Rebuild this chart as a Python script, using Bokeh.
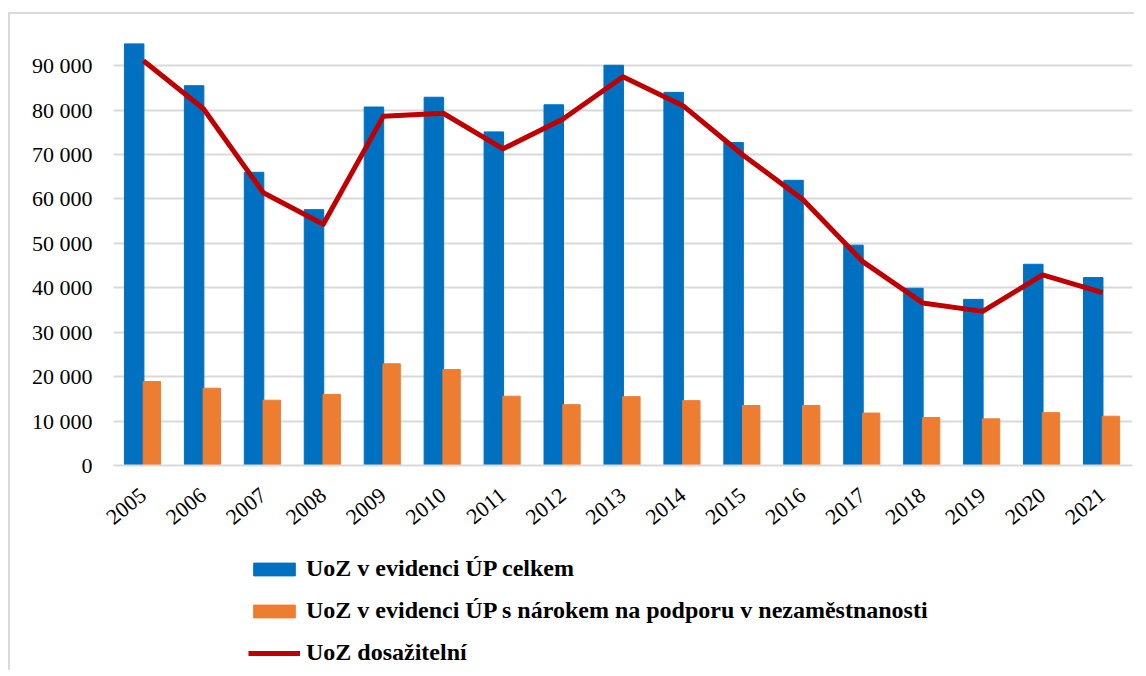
from bokeh.plotting import figure
from bokeh.models import (Range1d, FactorRange, FixedTicker, Legend, LegendItem,
                          ColumnDataSource)
from bokeh.layouts import column
from bokeh.transform import dodge
from bokeh.embed import file_html
from bokeh.resources import INLINE

years = ["2005", "2006", "2007", "2008", "2009", "2010", "2011", "2012", "2013",
         "2014", "2015", "2016", "2017", "2018", "2019", "2020", "2021"]
uoz_celkem = [95000, 85500, 66000, 57600, 80700, 82900, 75100, 81200, 90100,
              84000, 72700, 64200, 49600, 39900, 37400, 45300, 42300]
uoz_podpora = [18900, 17400, 14700, 16000, 22900, 21600, 15600, 13700, 15500,
               14600, 13500, 13500, 11800, 10800, 10500, 11900, 11100]
uoz_dosazitelni = [91100, 80300, 61400, 54300, 78600, 79300, 71300, 78000, 87500,
                   81000, 69900, 59900, 45900, 36600, 34700, 42900, 38900]
y_ticks = [0, 10000, 20000, 30000, 40000, 50000, 60000, 70000, 80000, 90000]
y_tick_labels = ["0", "10 000", "20 000", "30 000", "40 000", "50 000",
                 "60 000", "70 000", "80 000", "90 000"]
series_names = ["UoZ v evidenci ÚP celkem",
                "UoZ v evidenci ÚP s nárokem na podporu v nezaměstnanosti",
                "UoZ dosažitelní"]
colors = ["#0070C0", "#ED7D31", "#C00000"]

src = ColumnDataSource(dict(year=years, a=uoz_celkem, b=uoz_podpora, c=uoz_dosazitelni))

FONT = "Liberation Serif"

p = figure(width=1124, height=520, x_range=FactorRange(*years),
           y_range=Range1d(0, 95000), output_backend="svg", toolbar_location=None,
           min_border_left=103, min_border_right=2, min_border_top=29,
           min_border_bottom=60)
p.outline_line_color = None

p.vbar(x=dodge("year", -0.155, range=p.x_range), top="a", width=0.325,
       source=src, color=colors[0])
p.vbar(x=dodge("year", 0.14, range=p.x_range), top="b", width=0.29,
       source=src, color=colors[1])
p.line(x="year", y="c", source=src, line_color=colors[2], line_width=5,
       line_join="round")

p.xgrid.grid_line_color = None
p.ygrid.grid_line_color = "#D9D9D9"
p.ygrid.grid_line_width = 2
p.yaxis.ticker = FixedTicker(ticks=y_ticks)
p.yaxis.major_label_overrides = {t: l for t, l in zip(y_ticks, y_tick_labels)}
p.yaxis.axis_line_color = None
p.yaxis.major_tick_line_color = None
p.yaxis.minor_tick_line_color = None
p.yaxis.major_label_standoff = 15
p.xaxis.axis_line_color = "#D9D9D9"
p.xaxis.axis_line_width = 2
p.xaxis.major_tick_line_color = None
p.xaxis.minor_tick_line_color = None
p.xaxis.major_label_orientation = 0.68
p.xaxis.major_label_standoff = 21
for ax in (p.xaxis, p.yaxis):
    ax.major_label_text_font = FONT
    ax.major_label_text_font_size = "22px"
    ax.major_label_text_color = "black"

# legend panel (frame is aligned with the chart frame by the column layout)
pl = figure(width=1124, height=136, output_backend="svg", toolbar_location=None,
            x_range=Range1d(0, 1), y_range=Range1d(0, 1),
            min_border_left=0, min_border_right=0, min_border_top=0,
            min_border_bottom=0)
pl.axis.visible = False
pl.grid.grid_line_color = None
pl.outline_line_color = None
offscreen = ColumnDataSource(dict(x=[-5], y=[-5]))
l1 = pl.vbar(x="x", top="y", width=0.3, source=offscreen, color=colors[0])
l2 = pl.vbar(x="x", top="y", width=0.3, source=offscreen, color=colors[1])
l3 = pl.line(x="x", y="y", source=offscreen, line_color=colors[2], line_width=5)

legend = Legend(items=[LegendItem(label=series_names[0], renderers=[l1]),
                       LegendItem(label=series_names[1], renderers=[l2]),
                       LegendItem(label=series_names[2], renderers=[l3])],
                location=(135, 4), orientation="vertical")
legend.label_text_font = FONT
legend.label_text_font_style = "bold"
legend.label_text_font_size = "24px"
legend.label_text_color = "black"
legend.glyph_width = 52
legend.glyph_height = 16
legend.label_height = 24
legend.label_standoff = 6
legend.spacing = 15
legend.padding = 0
legend.margin = 0
legend.border_line_color = None
legend.background_fill_alpha = 0
pl.add_layout(legend, "center")

layout = column(p, pl, spacing=0)
layout.styles = {"border-top": "2px solid #D9D9D9", "border-left": "2px solid #D9D9D9",
                 "margin-top": "12px", "margin-left": "8px"}

open("out.html", "w").write(file_html(layout, INLINE))
